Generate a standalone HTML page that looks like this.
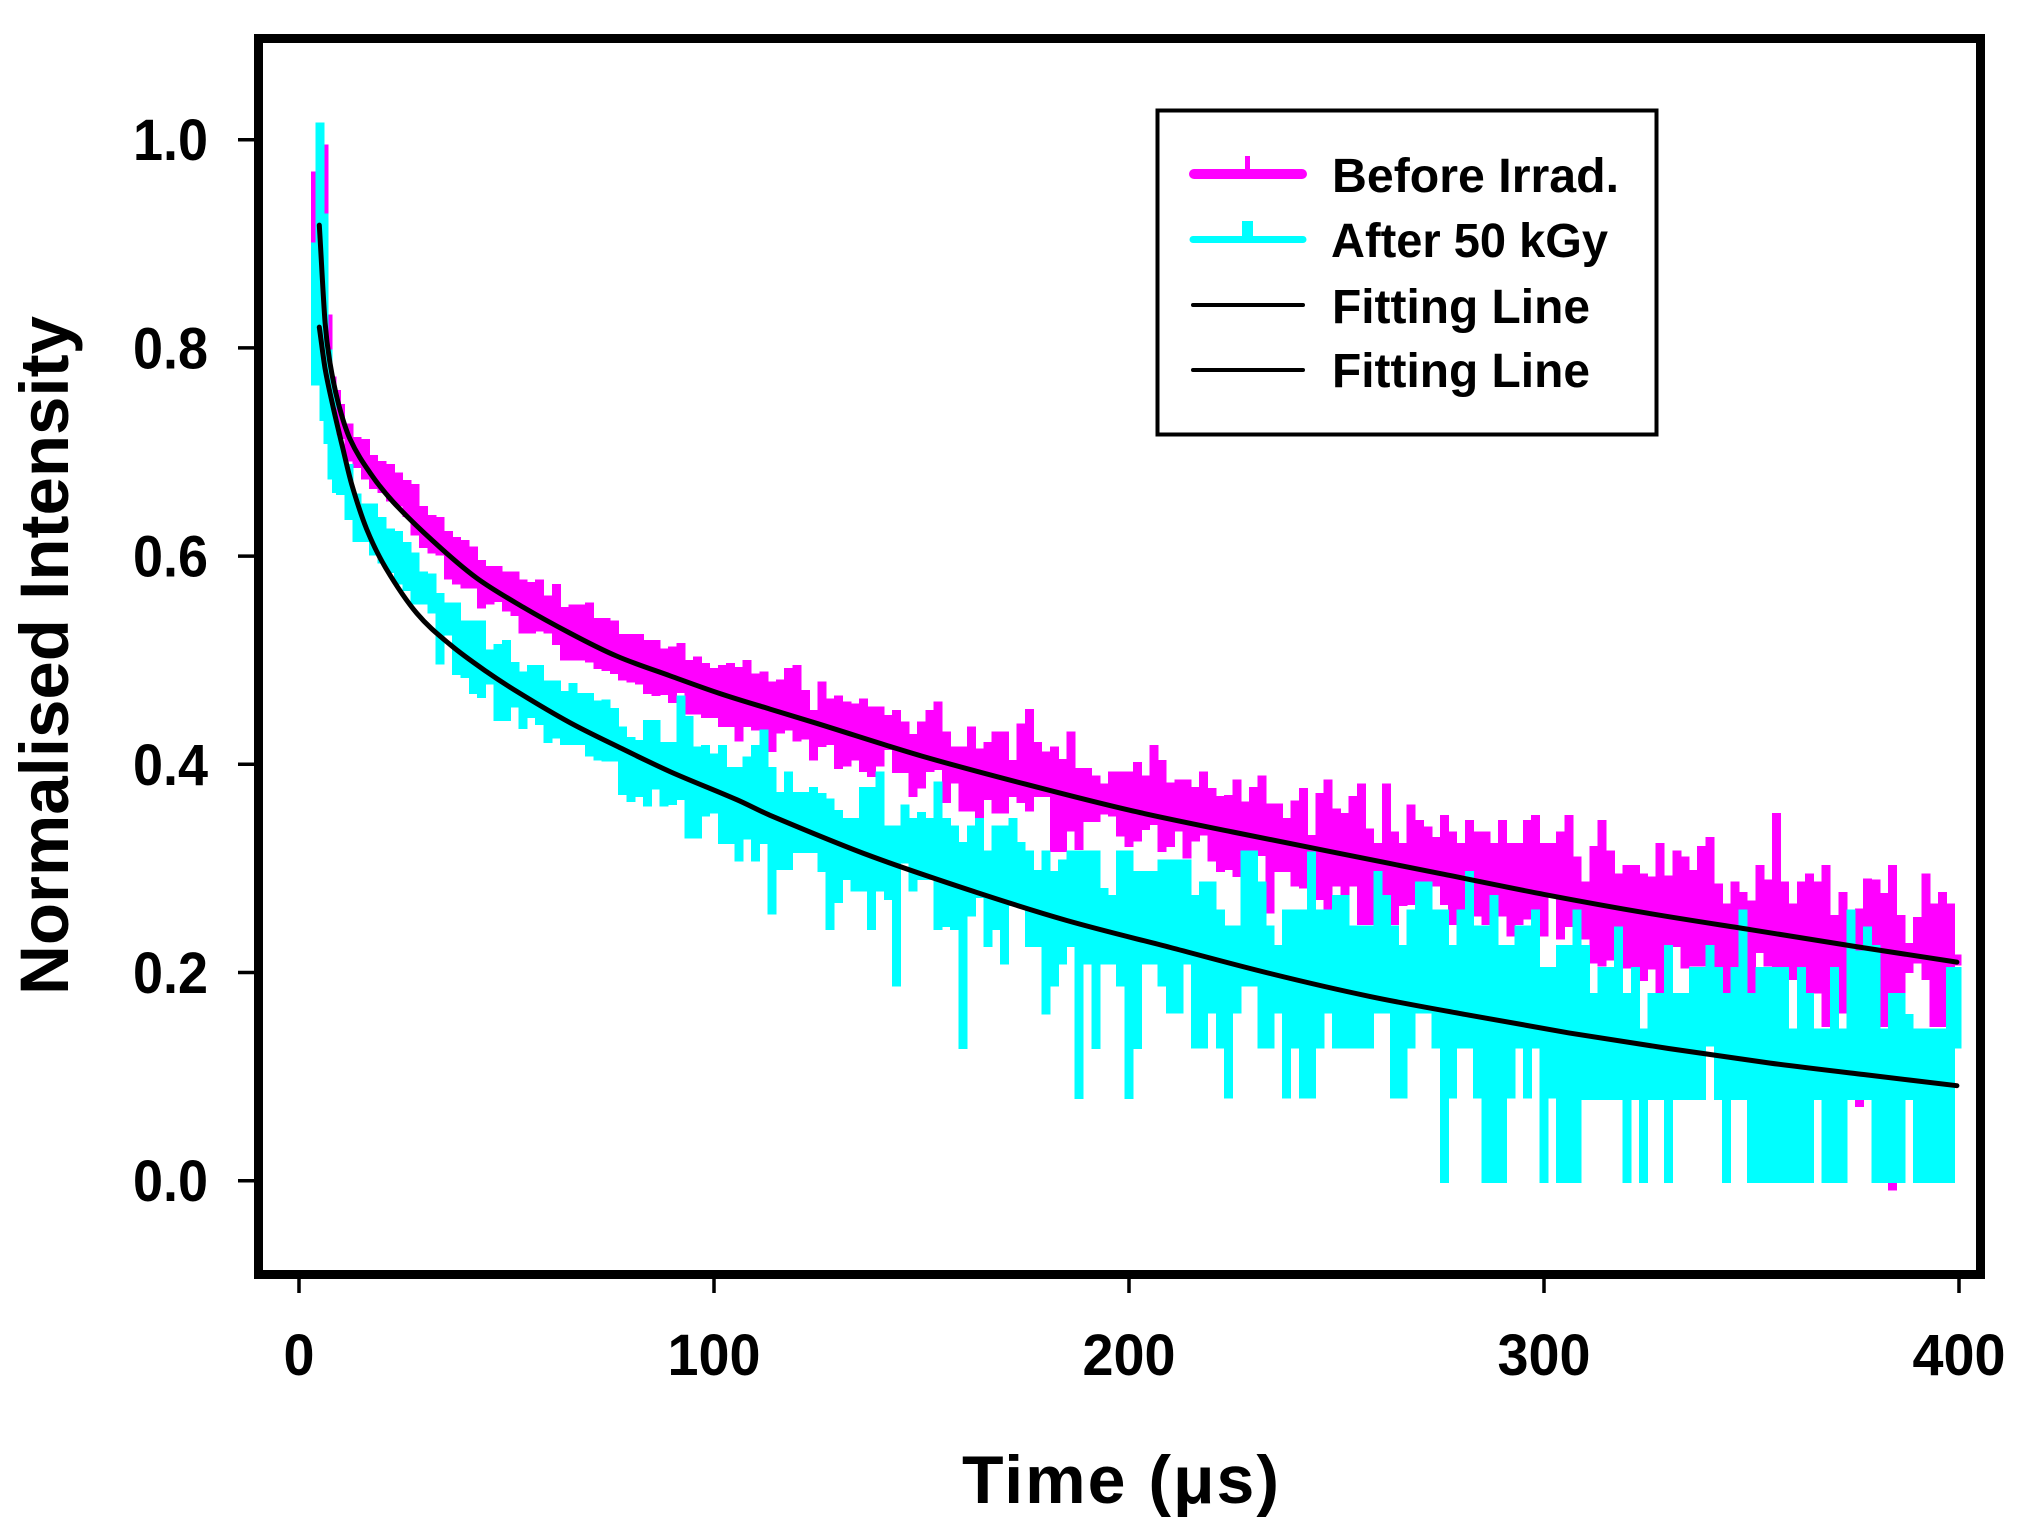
<!DOCTYPE html>
<html lang="en">
<head>
<meta charset="utf-8">
<title>Normalised Intensity vs Time</title>
<style>
html,body{margin:0;padding:0;background:#fff;}
svg{display:block;}
text{font-family:"Liberation Sans",Arial,sans-serif;font-weight:bold;fill:#000;}
</style>
</head>
<body>
<svg id="chart" xmlns="http://www.w3.org/2000/svg" width="2025" height="1536" viewBox="0 0 2025 1536">
  <rect x="0" y="0" width="2025" height="1536" fill="#fff"/>
  <g id="series-layer"></g>
  <rect x="258.5" y="38.5" width="1722" height="1236" fill="none" stroke="#000" stroke-width="9"/>
  <g id="tick-layer"></g>
  <text x="962" y="1503" font-size="68" textLength="317" lengthAdjust="spacing">Time (μs)</text>
  <text transform="translate(68,995) rotate(-90)" x="0" y="0" font-size="69" textLength="679" lengthAdjust="spacingAndGlyphs">Normalised Intensity</text>
  <g>
    <rect x="1157.5" y="110.5" width="499" height="324" fill="#fff" stroke="#000" stroke-width="4"/>
    <line x1="1194" y1="174" x2="1302" y2="174" stroke="#ff00ff" stroke-width="10" stroke-linecap="round"/>
    <rect x="1245" y="156" width="5" height="14" fill="#ff00ff"/>
    <line x1="1193" y1="239.5" x2="1303" y2="239.5" stroke="#00ffff" stroke-width="7" stroke-linecap="round"/>
    <rect x="1242" y="221" width="11" height="16" fill="#00ffff"/>
    <line x1="1193" y1="305" x2="1303" y2="305" stroke="#000" stroke-width="4" stroke-linecap="round"/>
    <line x1="1193" y1="370" x2="1303" y2="370" stroke="#000" stroke-width="4" stroke-linecap="round"/>
    <text x="1332" y="192" font-size="48" textLength="287" lengthAdjust="spacingAndGlyphs">Before Irrad.</text>
    <text x="1331" y="257" font-size="48" textLength="277" lengthAdjust="spacingAndGlyphs">After 50 kGy</text>
    <text x="1332" y="323" font-size="48" textLength="258" lengthAdjust="spacingAndGlyphs">Fitting Line</text>
    <text x="1332" y="387" font-size="48" textLength="258" lengthAdjust="spacingAndGlyphs">Fitting Line</text>
  </g>
</svg>
<script>
const xTicks = [0, 100, 200, 300, 400];
const yTicks = [0.0, 0.2, 0.4, 0.6, 0.8, 1.0];
const yTickLabels = ["0.0", "0.2", "0.4", "0.6", "0.8", "1.0"];

const sampleTimes = [
4,5,6,7,8,9,10,12,14,
16,18,20,22,24,26,28,30,32,34,
36,38,40,42,44,46,48,50,52,54,
56,58,60,62,64,66,68,70,72,74,
76,78,80,82,84,86,88,90,92,94,
96,98,100,102,104,106,108,110,112,114,
116,118,120,122,124,126,128,130,132,134,
136,138,140,142,144,146,148,150,152,154,
156,158,160,162,164,166,168,170,172,174,
176,178,180,182,184,186,188,190,192,194,
196,198,200,202,204,206,208,210,212,214,
216,218,220,222,224,226,228,230,232,234,
236,238,240,242,244,246,248,250,252,254,
256,258,260,262,264,266,268,270,272,274,
276,278,280,282,284,286,288,290,292,294,
296,298,300,302,304,306,308,310,312,314,
316,318,320,322,324,326,328,330,332,334,
336,338,340,342,344,346,348,350,352,354,
356,358,360,362,364,366,368,370,372,374,
376,378,380,382,384,386,388,390,392,394,
396,398,399.5];

const beforeHigh = [
.965,.995,.991,.828,.768,.755,.742,.723,.71,
.708,.693,.687,.684,.676,.669,.665,.644,.635,.633,
.62,.614,.611,.605,.592,.586,.586,.581,.581,.573,
.571,.573,.558,.569,.547,.549,.549,.551,.536,.536,
.534,.521,.521,.521,.515,.515,.507,.509,.512,.496,
.499,.493,.488,.491,.493,.489,.496,.483,.485,.475,
.477,.488,.491,.467,.448,.475,.459,.462,.456,.454,
.459,.451,.451,.443,.448,.437,.425,.437,.448,.456,
.427,.413,.413,.432,.411,.417,.427,.427,.40,.435,
.449,.417,.408,.413,.401,.427,.392,.392,.385,.377,
.389,.389,.389,.398,.385,.414,.40,.378,.381,.381,
.374,.389,.373,.365,.366,.381,.36,.374,.385,.358,
.358,.344,.361,.373,.328,.368,.381,.353,.349,.365,
.377,.334,.32,.377,.331,.32,.357,.342,.336,.326,
.347,.331,.32,.342,.331,.331,.32,.342,.32,.32,
.342,.347,.32,.32,.331,.347,.307,.283,.317,.342,
.313,.291,.299,.299,.291,.288,.32,.289,.313,.307,
.294,.317,.326,.281,.262,.283,.273,.265,.299,.285,
.349,.283,.262,.283,.291,.283,.299,.251,.273,.256,
.257,.286,.285,.272,.299,.251,.224,.249,.291,.262,
.273,.262,.211];

const beforeLow = [
.798,.871,.85,.789,.751,.738,.717,.695,.689,
.678,.669,.665,.657,.652,.642,.624,.612,.607,.605,
.582,.577,.573,.573,.554,.558,.56,.551,.547,.53,
.53,.532,.53,.519,.504,.504,.504,.502,.496,.494,
.491,.485,.483,.481,.472,.47,.471,.463,.473,.452,
.452,.449,.449,.44,.44,.426,.44,.437,.416,.416,
.434,.437,.426,.428,.408,.421,.423,.40,.402,.408,
.397,.392,.402,.418,.396,.396,.373,.381,.397,.399,
.367,.386,.359,.359,.352,.37,.357,.357,.373,.367,
.359,.373,.373,.32,.32,.34,.322,.349,.349,.356,
.354,.335,.325,.33,.341,.346,.32,.325,.34,.314,
.33,.336,.311,.301,.303,.296,.306,.312,.316,.261,
.301,.301,.287,.285,.284,.274,.264,.287,.268,.287,
.25,.25,.271,.277,.25,.268,.269,.287,.287,.287,
.269,.25,.231,.255,.258,.25,.261,.258,.239,.25,
.255,.242,.239,.277,.236,.248,.248,.236,.213,.21,
.216,.21,.208,.196,.196,.207,.181,.188,.229,.208,
.21,.21,.204,.181,.178,.175,.229,.178,.223,.21,
.207,.184,.197,.181,.184,.184,.152,.151,.165,.151,
.075,.178,.178,.152,-.005,.152,.204,.213,.197,.152,
.152,.152,.213];

const afterHigh = [
.897,1.012,.925,.794,.755,.712,.699,.684,.656,
.646,.646,.633,.622,.62,.609,.599,.581,.579,.56,
.551,.551,.534,.534,.534,.506,.511,.515,.494,.485,
.491,.491,.476,.476,.466,.474,.464,.464,.457,.458,
.45,.432,.422,.419,.438,.438,.417,.417,.462,.442,
.413,.414,.406,.414,.393,.393,.403,.414,.429,.393,
.369,.389,.369,.369,.374,.368,.363,.352,.344,.344,
.374,.374,.389,.337,.337,.357,.344,.35,.344,.379,
.344,.337,.321,.337,.344,.313,.337,.337,.344,.321,
.313,.294,.313,.293,.304,.313,.313,.313,.313,.277,
.27,.313,.313,.293,.293,.293,.304,.304,.304,.304,
.27,.283,.283,.256,.241,.241,.313,.313,.283,.241,
.222,.256,.256,.256,.312,.256,.256,.27,.27,.241,
.241,.241,.293,.27,.241,.222,.256,.283,.283,.256,
.256,.222,.256,.293,.241,.241,.27,.222,.222,.241,
.241,.256,.201,.201,.222,.222,.256,.222,.176,.201,
.201,.24,.176,.201,.142,.176,.176,.222,.176,.176,
.201,.201,.222,.201,.176,.201,.256,.176,.201,.201,
.201,.201,.142,.201,.176,.142,.142,.201,.142,.256,
.217,.24,.222,.142,.176,.176,.156,.142,.142,.142,
.142,.201,.201];

const afterLow = [
.768,.768,.734,.712,.678,.665,.663,.639,.618,
.618,.605,.597,.588,.577,.571,.558,.558,.549,.50,
.528,.49,.487,.472,.468,.481,.446,.446,.459,.438,
.449,.442,.425,.429,.423,.423,.423,.412,.408,.407,
.407,.375,.368,.373,.364,.38,.364,.365,.37,.333,
.333,.354,.357,.328,.328,.311,.332,.311,.328,.26,
.303,.303,.319,.319,.319,.301,.245,.271,.293,.282,
.282,.245,.282,.274,.191,.309,.282,.293,.293,.245,
.248,.245,.131,.258,.276,.229,.245,.212,.268,.268,
.229,.229,.164,.191,.212,.229,.083,.212,.131,.212,
.212,.191,.083,.131,.212,.212,.191,.165,.165,.212,
.1315,.1315,.165,.1315,.0835,.165,.191,.191,.1315,.1315,
.165,.0835,.1315,.0835,.0835,.1315,.165,.1315,.1315,.1315,
.1315,.1315,.165,.165,.0835,.0835,.1315,.165,.165,.1315,
.002,.0835,.1315,.1315,.0835,.002,.002,.002,.0835,.1315,
.0835,.1315,.002,.0835,.002,.002,.002,.082,.082,.082,
.082,.082,.002,.082,.002,.082,.082,.002,.082,.082,
.082,.082,.133,.082,.002,.082,.082,.002,.002,.002,
.002,.002,.002,.002,.002,.082,.002,.002,.002,.082,
.082,.082,.002,.002,.002,.002,.082,.002,.002,.002,
.002,.002,.1315];

const fitBeforeTimes = [4.9,6.3,7.5,9.5,12.3,17.1,22.7,32.4,42.8,54,65.3,76.5,89.4,101.4,113.5,125,150,175,200,225,250,275,300,325,350,375,399.5];
const fitBeforeValues = [.918,.824,.785,.7465,.7125,.68,.652,.614,.579,.551,.526,.504,.485,.468,.453,.439,.408,.381,.356,.335,.315,.295,.275,.257,.241,.225,.21];

const fitAfterTimes = [4.9,6.3,8.3,10.3,12.7,16.3,21,28.4,36.4,45.2,53.3,65.3,77.3,89.4,105.5,113.5,137,161.7,185,210,234,258,282,306,330,354.5,377,399.5];
const fitAfterValues = [.82,.78,.742,.708,.669,.626,.588,.545,.515,.489,.468,.44,.416,.393,.366,.351,.313,.279,.25,.224,.199,.177,.159,.142,.127,.113,.102,.0913];

const SVGNS = "http://www.w3.org/2000/svg";
const seriesLayer = document.getElementById("series-layer");
const tickLayer = document.getElementById("tick-layer");

function xScale(t) { return 299 + 4.15 * t; }
function yScale(v) { return 1180.7 - 1041 * v; }

function bandPath(times, highs, lows) {
  let d = "";
  for (let i = 0; i < times.length; i++) {
    const x = xScale(times[i]).toFixed(1);
    d += "M" + x + " " + yScale(highs[i]).toFixed(1);
    d += "L" + x + " " + yScale(lows[i]).toFixed(1);
  }
  return d;
}

function linePath(times, values) {
  const xs = times.map(xScale);
  const ys = values.map(yScale);
  const n = xs.length;
  const slopes = xs.map(function (x, i) {
    const a = Math.max(i - 1, 0);
    const b = Math.min(i + 1, n - 1);
    return (ys[b] - ys[a]) / (xs[b] - xs[a]);
  });
  let d = "M" + xs[0].toFixed(1) + " " + ys[0].toFixed(1);
  for (let i = 0; i < n - 1; i++) {
    const h = (xs[i + 1] - xs[i]) / 3;
    d += "C" + (xs[i] + h).toFixed(1) + " " + (ys[i] + slopes[i] * h).toFixed(1) + " " +
         (xs[i + 1] - h).toFixed(1) + " " + (ys[i + 1] - slopes[i + 1] * h).toFixed(1) + " " +
         xs[i + 1].toFixed(1) + " " + ys[i + 1].toFixed(1);
  }
  return d;
}

const beforePath = document.createElementNS(SVGNS, "path");


beforePath.setAttribute("d", bandPath(sampleTimes, beforeHigh, beforeLow));
beforePath.setAttribute("fill", "none");
beforePath.setAttribute("stroke", "#ff00ff");
beforePath.setAttribute("stroke-width", "9");
beforePath.setAttribute("stroke-linecap", "square");
beforePath.setAttribute("shape-rendering", "crispEdges");
seriesLayer.appendChild(beforePath);

const afterPath = document.createElementNS(SVGNS, "path");


afterPath.setAttribute("d", bandPath(sampleTimes, afterHigh, afterLow));
afterPath.setAttribute("fill", "none");
afterPath.setAttribute("stroke", "#00ffff");
afterPath.setAttribute("stroke-width", "9");
afterPath.setAttribute("stroke-linecap", "square");
afterPath.setAttribute("shape-rendering", "crispEdges");
seriesLayer.appendChild(afterPath);

const fitBeforePath = document.createElementNS(SVGNS, "path");


fitBeforePath.setAttribute("d", linePath(fitBeforeTimes, fitBeforeValues));
fitBeforePath.setAttribute("fill", "none");
fitBeforePath.setAttribute("stroke", "#000");
fitBeforePath.setAttribute("stroke-width", "5");
fitBeforePath.setAttribute("stroke-linejoin", "round");
fitBeforePath.setAttribute("stroke-linecap", "round");
seriesLayer.appendChild(fitBeforePath);

const fitAfterPath = document.createElementNS(SVGNS, "path");


fitAfterPath.setAttribute("d", linePath(fitAfterTimes, fitAfterValues));
fitAfterPath.setAttribute("fill", "none");
fitAfterPath.setAttribute("stroke", "#000");
fitAfterPath.setAttribute("stroke-width", "5");
fitAfterPath.setAttribute("stroke-linejoin", "round");
fitAfterPath.setAttribute("stroke-linecap", "round");
seriesLayer.appendChild(fitAfterPath);

xTicks.forEach(function (tick) {
  const mark = document.createElementNS(SVGNS, "line");
  
  
  mark.setAttribute("x1", xScale(tick));
  mark.setAttribute("x2", xScale(tick));
  mark.setAttribute("y1", 1276);
  mark.setAttribute("y2", 1293);
  mark.setAttribute("stroke", "#000");
  mark.setAttribute("stroke-width", "3.5");
  tickLayer.appendChild(mark);
  const label = document.createElementNS(SVGNS, "text");
  
  
  label.setAttribute("x", xScale(tick));
  label.setAttribute("y", 1375);
  label.setAttribute("text-anchor", "middle");
  label.setAttribute("font-size", "58");
  label.setAttribute("textLength", String(tick).length * 31);
  label.setAttribute("lengthAdjust", "spacingAndGlyphs");
  label.textContent = String(tick);
  tickLayer.appendChild(label);
});

yTicks.forEach(function (tick, i) {
  const mark = document.createElementNS(SVGNS, "line");
  
  
  mark.setAttribute("x1", 238);
  mark.setAttribute("x2", 256);
  mark.setAttribute("y1", yScale(tick));
  mark.setAttribute("y2", yScale(tick));
  mark.setAttribute("stroke", "#000");
  mark.setAttribute("stroke-width", "3.5");
  tickLayer.appendChild(mark);
  const label = document.createElementNS(SVGNS, "text");
  
  
  label.setAttribute("x", 208);
  label.setAttribute("y", yScale(tick) + 20.5);
  label.setAttribute("text-anchor", "end");
  label.setAttribute("font-size", "58");
  label.setAttribute("textLength", 75);
  label.setAttribute("lengthAdjust", "spacingAndGlyphs");
  label.textContent = yTickLabels[i];
  tickLayer.appendChild(label);
});
</script>
</body>
</html>
